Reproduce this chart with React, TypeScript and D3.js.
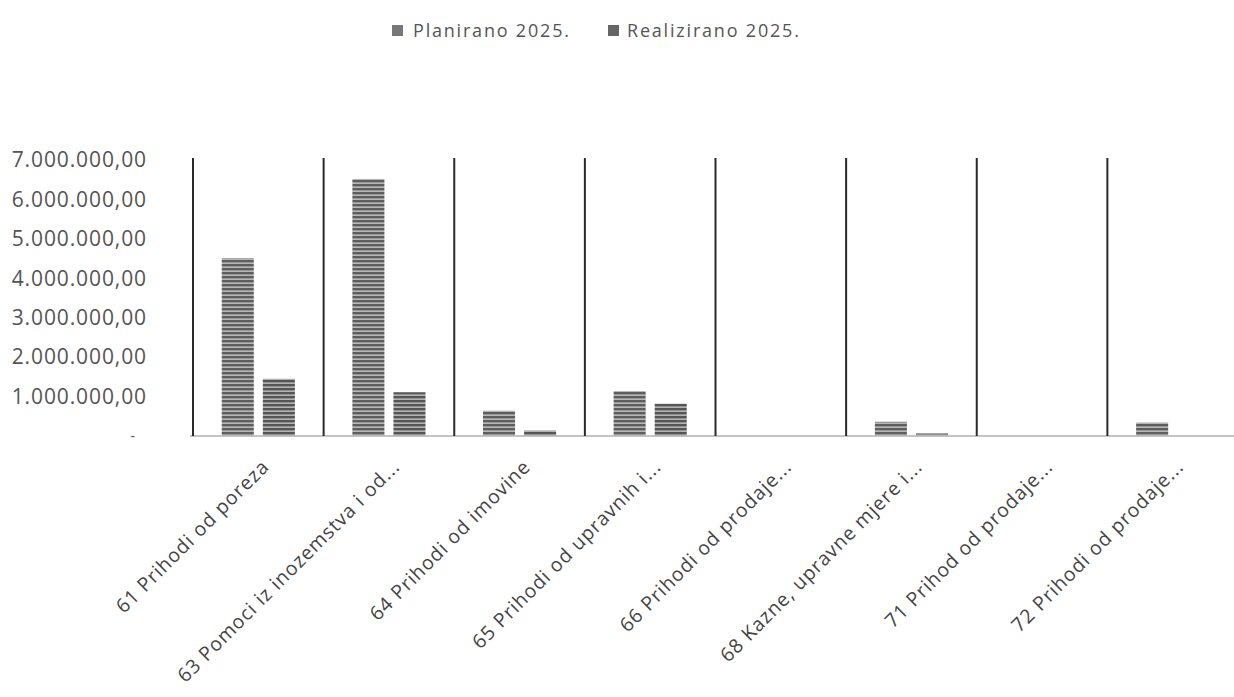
import React from 'react';
import * as d3 from 'd3';

const categories = [
  '61 Prihodi od poreza',
  '63 Pomoci iz inozemstva i od...',
  '64 Prihodi od imovine',
  '65 Prihodi od upravnih i...',
  '66 Prihodi od prodaje...',
  '68 Kazne, upravne mjere i...',
  '71 Prihod od prodaje...',
  '72 Prihodi od prodaje...',
];
const planned = [4510000, 6520000, 640000, 1140000, 0, 360000, 0, 340000];
const realized = [1450000, 1110000, 140000, 820000, 0, 65000, 0, 0];
const yTicks = [0, 1000000, 2000000, 3000000, 4000000, 5000000, 6000000, 7000000];
const seriesNames = ['Planirano 2025.', 'Realizirano 2025.'];

const width = 1234;
const height = 697;
const font = '"Open Sans", "DejaVu Sans", sans-serif';

const fmt = (v: number) => {
  if (v === 0) return '-';
  const s = d3.format(',.2f')(v);
  return s.replace(/,/g, '#').replace('.', ',').replace(/#/g, '.');
};

export default function App() {
  const x = d3.scaleBand<string>().domain(categories).range([193, 1238]).padding(0);
  const inner = d3
    .scaleBand<number>()
    .domain([0, 1])
    .range([0, x.bandwidth()])
    .paddingInner(0.22)
    .paddingOuter(0.7);
  const y = d3.scaleLinear().domain([0, 7000000]).range([436, 160]);

  const series = [planned, realized];
  const fills = ['url(#hatchPlan)', 'url(#hatchReal)'];

  return (
    <svg
      width={width}
      height={height}
      style={{ position: 'absolute', left: 0, top: 0, background: '#fff' }}
    >
      <defs>
        <pattern id="hatchPlan" width="6" height="4" patternUnits="userSpaceOnUse">
          <rect width="6" height="4" fill="#5e5e5e" />
          <rect y="2.6" width="6" height="1" fill="#f0f0f0" />
        </pattern>
        <pattern id="hatchReal" width="6" height="4" patternUnits="userSpaceOnUse">
          <rect width="6" height="4" fill="#555" />
          <rect y="2.6" width="6" height="1" fill="#f0f0f0" />
        </pattern>
      </defs>

      {/* legend */}
      <g fontFamily={font} fontSize={18} fill="#555" letterSpacing={1.8}>
        <rect x={392} y={25} width={11} height={11} fill="#777" />
        <text x={413} y={37}>{seriesNames[0]}</text>
        <rect x={608} y={25} width={11} height={11} fill="#666" />
        <text x={627} y={37}>{seriesNames[1]}</text>
      </g>

      {/* y axis labels */}
      <g fontFamily={font} fill="#555" textAnchor="end">
        {yTicks.map((t) => (
          <text
            key={t}
            x={t === 0 ? 135 : 147}
            y={y(t)}
            dy="0.35em"
            fontSize={t === 0 ? 14 : 21}
            letterSpacing={t === 0 ? 0 : 0.9}
          >
            {fmt(t)}
          </text>
        ))}
      </g>

      {/* baseline */}
      <line x1={190} x2={1234} y1={y(0)} y2={y(0)} stroke="#c4c4c4" strokeWidth={2} />

      {/* category separators */}
      {categories.map((c) => (
        <line
          key={c}
          x1={x(c)}
          x2={x(c)}
          y1={y(0)}
          y2={y(7000000) - 2}
          stroke="#2a2a2a"
          strokeWidth={2}
        />
      ))}

      {/* bars */}
      {series.map((vals, si) => (
        <g key={si}>
          {categories.map((c, i) =>
            vals[i] > 0 ? (
              <rect
                key={c}
                x={(x(c) || 0) + (inner(si) || 0)}
                y={y(vals[i])}
                width={inner.bandwidth()}
                height={y(0) - y(vals[i])}
                fill={fills[si]}
              />
            ) : null
          )}
        </g>
      ))}

      {/* x labels */}
      <g fontFamily={font} fontSize={19.5} fill="#444" textAnchor="end" letterSpacing={0.9}>
        {categories.map((c) => {
          const cx = (x(c) || 0) + x.bandwidth() / 2 + 12;
          const ly = 468;
          return (
            <text key={c} x={cx} y={ly} transform={`rotate(-45, ${cx}, ${ly})`}>
              {c}
            </text>
          );
        })}
      </g>
    </svg>
  );
}
